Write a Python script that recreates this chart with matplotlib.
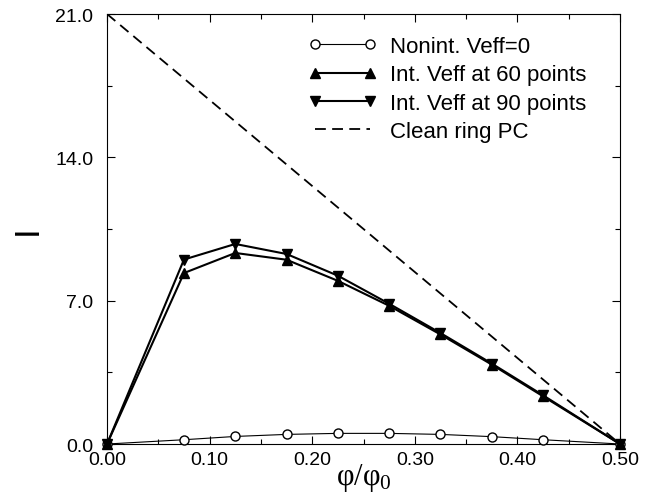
import matplotlib
matplotlib.use("Agg")
import matplotlib.pyplot as plt
from matplotlib.ticker import MultipleLocator, FormatStrFormatter

# values
phi = [0.0, 0.075, 0.125, 0.175, 0.225, 0.275, 0.325, 0.375, 0.425, 0.5]
nonint = [0.0, 0.21, 0.37, 0.47, 0.52, 0.52, 0.47, 0.36, 0.21, 0.0]
int60 = [0.0, 8.35, 9.33, 9.0, 7.97, 6.75, 5.35, 3.88, 2.33, 0.0]
int90 = [0.0, 9.01, 9.77, 9.28, 8.22, 6.85, 5.42, 3.93, 2.38, 0.0]
clean_x = [0.0, 0.5]
clean_y = [21.0, 0.0]

plt.rcParams["font.family"] = ["Liberation Sans", "DejaVu Sans"]
plt.rcParams["mathtext.fontset"] = "custom"
plt.rcParams["mathtext.rm"] = "Liberation Serif"
plt.rcParams["mathtext.it"] = "Liberation Serif"

fig = plt.figure(figsize=(6.55, 5.02), dpi=100)
ax = fig.add_axes([0.1634, 0.1135, 0.7832, 0.8566])

ax.plot(phi, nonint, color="black", lw=0.8, marker="o", ms=6.5,
        mfc="white", mec="black", mew=1.0, clip_on=False, zorder=3,
        label="Nonint. Veff=0")
ax.plot(phi, int60, color="black", lw=1.5, marker="^", ms=7.5,
        clip_on=False, zorder=4, label="Int. Veff at 60 points")
ax.plot(phi, int90, color="black", lw=1.5, marker="v", ms=7.5,
        clip_on=False, zorder=4, label="Int. Veff at 90 points")
ax.plot(clean_x, clean_y, color="black", lw=1.3, dashes=(6, 3.5),
        label="Clean ring PC")

ax.set_xlim(0, 0.5)
ax.set_ylim(0, 21)
ax.xaxis.set_major_locator(MultipleLocator(0.1))
ax.xaxis.set_minor_locator(MultipleLocator(0.05))
ax.yaxis.set_major_locator(MultipleLocator(7))
ax.yaxis.set_minor_locator(MultipleLocator(3.5))
ax.xaxis.set_major_formatter(FormatStrFormatter("%.2f"))
ax.yaxis.set_major_formatter(FormatStrFormatter("%.1f"))
ax.tick_params(which="both", direction="in", top=True, right=True,
               labelsize=14, width=0.8)
ax.tick_params(which="major", length=6)
ax.tick_params(which="minor", length=3.5)
ax.tick_params(axis="x", which="major", pad=5)
ax.tick_params(axis="y", which="major", pad=10)
for s in ax.spines.values():
    s.set_linewidth(0.8)

ax.set_xlabel("φ/φ$_0$", fontsize=22, family="Liberation Serif", labelpad=-5)
ax.set_ylabel("I", fontsize=25, labelpad=8)

ax.legend(loc="upper right", bbox_to_anchor=(0.965, 0.985), frameon=False,
          fontsize=16, handlelength=3.1, numpoints=2, labelspacing=0.33,
          handletextpad=0.6, borderaxespad=0.3)

fig.savefig("out.png", dpi=100)
